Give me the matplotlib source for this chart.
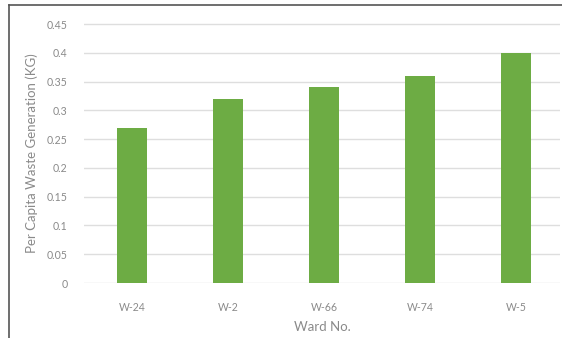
import matplotlib
matplotlib.use("Agg")
import matplotlib.pyplot as plt
from matplotlib.lines import Line2D

wards = ["W-24", "W-2", "W-66", "W-74", "W-5"]
waste_kg = [0.27, 0.32, 0.34, 0.36, 0.40]
y_ticks = [0, 0.05, 0.1, 0.15, 0.2, 0.25, 0.3, 0.35, 0.4, 0.45]
y_tick_labels = ["0", "0.05", "0.1", "0.15", "0.2", "0.25", "0.3", "0.35", "0.4", "0.45"]

plt.rcParams["font.family"] = ["Lato", "DejaVu Sans"]

W, H = 562, 338
fig = plt.figure(figsize=(W / 100, H / 100), dpi=100)
fig.patch.set_facecolor("white")

ax = fig.add_axes([84 / W, 1 - 283 / H, (560 - 84) / W, (283 - 23) / H])
x = list(range(len(wards)))
ax.bar(x, waste_kg, width=0.31, color="#6DAC44", zorder=3)

ax.set_xlim(-0.5, 4.46)
ax.set_ylim(0, 0.4518)
ax.set_yticks(y_ticks)
ax.set_yticklabels(y_tick_labels)
ax.set_xticks(x)
ax.set_xticklabels(wards)
ax.grid(axis="y", color="#dedede", linewidth=1.0, zorder=0)
for s in ax.spines.values():
    s.set_visible(False)
ax.tick_params(axis="both", length=0, labelsize=7.6, labelcolor="#8a8a8a")
ax.tick_params(axis="y", pad=12)
ax.tick_params(axis="x", pad=14)

ax.set_ylabel("Per Capita Waste Generation (KG)", fontsize=9.5, color="#8a8a8a")
ax.yaxis.set_label_coords((38 - 84) / (560 - 84), 0.5)
ax.set_xlabel("Ward No.", fontsize=9.5, color="#8a8a8a")
ax.xaxis.set_label_coords(0.5, -(321 - 283) / (283 - 23))

# frame lines along the left and top edges
fig.add_artist(Line2D([8.5 / W, 8.5 / W], [0, 1 - 5 / H], color="#555555", linewidth=1.2))
fig.add_artist(Line2D([8.5 / W, 1], [1 - 5 / H, 1 - 5 / H], color="#555555", linewidth=1.2))

fig.savefig("out.png", dpi=100, facecolor="white")
